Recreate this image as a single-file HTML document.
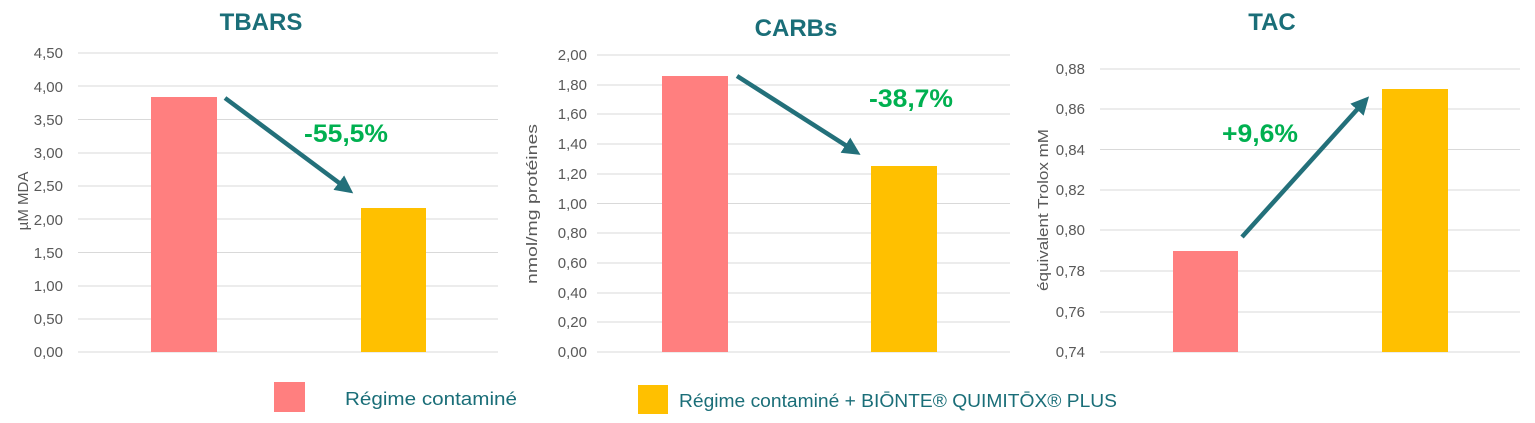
<!DOCTYPE html>
<html><head><meta charset="utf-8"><style>
body{margin:0;background:#fff;width:1535px;height:418px;overflow:hidden}
text{font-family:"Liberation Sans",sans-serif}
</style></head><body>
<svg width="1535" height="418" xmlns="http://www.w3.org/2000/svg">
<defs><marker id="ah" markerWidth="4" markerHeight="4" refX="2" refY="2" orient="auto" markerUnits="strokeWidth"><path d="M0,0 L4,2 L0,4 z" fill="#23707a"/></marker></defs>
<g stroke="#d9d9d9" stroke-width="1">
<line x1="78" x2="498" y1="53" y2="53"/><line x1="78" x2="498" y1="86" y2="86"/><line x1="78" x2="498" y1="119.5" y2="119.5"/><line x1="78" x2="498" y1="153" y2="153"/><line x1="78" x2="498" y1="186" y2="186"/><line x1="78" x2="498" y1="219" y2="219"/><line x1="78" x2="498" y1="252.5" y2="252.5"/><line x1="78" x2="498" y1="286" y2="286"/><line x1="78" x2="498" y1="319" y2="319"/><line x1="78" x2="498" y1="352" y2="352"/>
<line x1="597" x2="1010" y1="55" y2="55"/><line x1="597" x2="1010" y1="85" y2="85"/><line x1="597" x2="1010" y1="114" y2="114"/><line x1="597" x2="1010" y1="144" y2="144"/><line x1="597" x2="1010" y1="174" y2="174"/><line x1="597" x2="1010" y1="203.5" y2="203.5"/><line x1="597" x2="1010" y1="233" y2="233"/><line x1="597" x2="1010" y1="263" y2="263"/><line x1="597" x2="1010" y1="293" y2="293"/><line x1="597" x2="1010" y1="322" y2="322"/><line x1="597" x2="1010" y1="352" y2="352"/>
<line x1="1100" x2="1520" y1="69" y2="69"/><line x1="1100" x2="1520" y1="109" y2="109"/><line x1="1100" x2="1520" y1="149.5" y2="149.5"/><line x1="1100" x2="1520" y1="190" y2="190"/><line x1="1100" x2="1520" y1="230" y2="230"/><line x1="1100" x2="1520" y1="271" y2="271"/><line x1="1100" x2="1520" y1="312" y2="312"/><line x1="1100" x2="1520" y1="352" y2="352"/>
</g>
<g fill="#595959" font-size="15" text-anchor="end">
<text x="63" y="58">4,50</text><text x="63" y="92">4,00</text><text x="63" y="125">3,50</text><text x="63" y="158">3,00</text><text x="63" y="191">2,50</text><text x="63" y="225">2,00</text><text x="63" y="258">1,50</text><text x="63" y="291">1,00</text><text x="63" y="324">0,50</text><text x="63" y="357">0,00</text>
<text x="587" y="60">2,00</text><text x="587" y="90">1,80</text><text x="587" y="119">1,60</text><text x="587" y="149">1,40</text><text x="587" y="179">1,20</text><text x="587" y="209">1,00</text><text x="587" y="238">0,80</text><text x="587" y="268">0,60</text><text x="587" y="298">0,40</text><text x="587" y="327">0,20</text><text x="587" y="357">0,00</text>
<text x="1085" y="74">0,88</text><text x="1085" y="114">0,86</text><text x="1085" y="155">0,84</text><text x="1085" y="195">0,82</text><text x="1085" y="235">0,80</text><text x="1085" y="276">0,78</text><text x="1085" y="317">0,76</text><text x="1085" y="357">0,74</text>
</g>
<g fill="#595959" font-size="15" text-anchor="middle">
<text transform="translate(28,201) rotate(-90)">µM MDA</text>
<text transform="translate(537,204) rotate(-90)" textLength="160" lengthAdjust="spacingAndGlyphs">nmol/mg protéines</text>
<text transform="translate(1048,210) rotate(-90)" textLength="162" lengthAdjust="spacingAndGlyphs">équivalent Trolox mM</text>
</g>
<g fill="#1a6e78" font-size="24" font-weight="bold" text-anchor="middle">
<text x="261" y="30">TBARS</text><text x="796" y="36">CARBs</text><text x="1272" y="30">TAC</text>
</g>
<rect x="151" y="97" width="66" height="255" fill="#ff7f7f"/>
<rect x="361" y="208" width="65" height="144" fill="#ffc000"/>
<rect x="662" y="76" width="66" height="276" fill="#ff7f7f"/>
<rect x="871" y="166" width="66" height="186" fill="#ffc000"/>
<rect x="1173" y="251" width="65" height="101" fill="#ff7f7f"/>
<rect x="1382" y="89" width="66" height="263" fill="#ffc000"/>
<g stroke="#23707a" stroke-width="4.5" fill="none">
<line x1="225" y1="98" x2="346" y2="188" marker-end="url(#ah)"/>
<line x1="737" y1="76" x2="853" y2="150" marker-end="url(#ah)"/>
<line x1="1242" y1="237" x2="1363" y2="103" marker-end="url(#ah)"/>
</g>
<g fill="#00b050" font-size="25" font-weight="bold" text-anchor="middle">
<text x="346" y="142" textLength="84" lengthAdjust="spacingAndGlyphs">-55,5%</text><text x="911" y="107" textLength="84" lengthAdjust="spacingAndGlyphs">-38,7%</text><text x="1260" y="142" textLength="76" lengthAdjust="spacingAndGlyphs">+9,6%</text>
</g>
<rect x="274" y="382" width="31" height="30" fill="#ff7f7f"/>
<rect x="638" y="385" width="30" height="29" fill="#ffc000"/>
<g fill="#1a6e78" font-size="18">
<text x="345" y="405" textLength="172" lengthAdjust="spacingAndGlyphs">Régime contaminé</text>
<text x="679" y="407" textLength="438" lengthAdjust="spacingAndGlyphs">Régime contaminé + BIŌNTE® QUIMITŌX® PLUS</text>
</g>
</svg>
</body></html>
